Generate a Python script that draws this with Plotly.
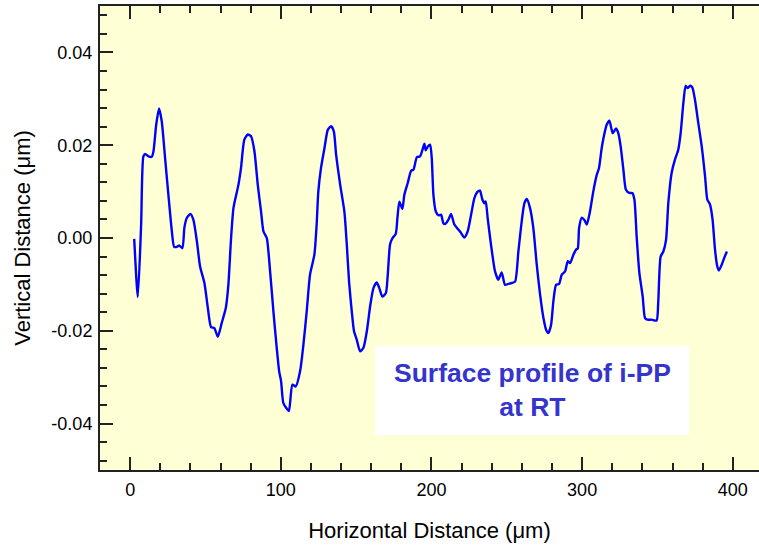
import plotly.graph_objects as go

# surface profile
horizontal_um = [
    2.7, 5.1, 7.3, 8.8, 10.0, 12.2, 14.4, 15.5, 17.3, 19.2, 21.0, 23.2, 25.4, 27.7,
    29.2, 31.0, 32.5, 34.7, 36.0, 37.6, 40.0, 42.0, 44.3, 46.4, 49.3, 51.6, 53.7,
    55.9, 58.2, 60.8, 63.5, 65.2, 67.0, 68.6, 71.9, 73.6, 75.8, 78.1, 80.3, 82.5,
    84.7, 86.9, 88.5, 90.7, 92.9, 95.1, 97.3, 98.9, 100.2, 101.7, 104.0, 105.4,
    107.7, 109.9, 112.8, 115.0, 117.2, 119.4, 122.3, 123.8, 124.9, 126.7, 129.0,
    131.2, 133.4, 135.2, 136.7, 139.4, 142.2, 143.8, 145.3, 147.1, 148.6, 150.4,
    152.6, 154.8, 157.1, 159.3, 161.5, 163.7, 165.4, 167.4, 169.7, 171.0, 172.5,
    174.0, 176.3, 177.4, 178.7, 180.7, 182.0, 184.3, 186.5, 188.0, 190.3, 192.4,
    194.0, 195.3, 196.2, 197.6, 199.1, 200.2, 201.3, 202.9, 204.6, 206.4, 207.9,
    209.0, 211.2, 213.0, 215.2, 217.4, 219.6, 221.8, 224.0, 226.3, 228.5, 230.7,
    232.2, 233.8, 235.1, 236.0, 237.3, 239.5, 242.2, 244.4, 246.6, 248.8, 251.0,
    253.3, 255.5, 257.7, 259.9, 261.7, 263.3, 265.4, 267.6, 269.9, 272.1, 274.3,
    276.1, 277.6, 279.4, 280.9, 282.7, 284.7, 286.5, 288.7, 290.5, 292.0, 294.2,
    296.0, 297.1, 298.0, 299.8, 301.5, 303.1, 305.2, 307.4, 309.7, 311.2, 313.0,
    314.4, 316.3, 318.1, 320.3, 322.5, 324.0, 325.6, 327.4, 329.1, 331.4, 333.3,
    334.7, 336.2, 338.0, 340.2, 341.7, 343.3, 346.1, 349.4, 350.5, 352.1, 353.9,
    355.7, 357.2, 359.4, 361.6, 363.8, 365.4, 367.2, 368.7, 370.0, 371.6, 373.1,
    374.9, 377.1, 379.4, 381.6, 383.1, 384.9, 386.6, 388.2, 389.7, 390.8, 392.6,
    394.3, 396.1,
]
vertical_um = [
    -0.0002, -0.0127, 0.0029, 0.0176, 0.0181, 0.0176, 0.0175, 0.0187, 0.0244,
    0.0279, 0.0251, 0.0172, 0.0093, 0.0014, -0.0019, -0.0019, -0.0016, -0.0022,
    0.0022, 0.0043, 0.0052, 0.0039, -0.0007, -0.0061, -0.0097, -0.0151, -0.0192,
    -0.0194, -0.0213, -0.0183, -0.0151, -0.0101, 0.0000, 0.0065, 0.0115, 0.0151,
    0.0212, 0.0223, 0.0219, 0.0187, 0.0115, 0.0057, 0.0014, 0.0000, -0.0072,
    -0.0158, -0.0237, -0.0287, -0.0309, -0.0356, -0.0368, -0.0373, -0.0316,
    -0.0320, -0.0287, -0.0230, -0.0158, -0.0079, -0.0036, 0.0029, 0.0100, 0.0151,
    0.0194, 0.0233, 0.0241, 0.0230, 0.0180, 0.0115, 0.0057, -0.0014, -0.0094,
    -0.0158, -0.0201, -0.0219, -0.0244, -0.0237, -0.0201, -0.0147, -0.0108,
    -0.0096, -0.0108, -0.0126, -0.0119, -0.0079, -0.0014, -0.0001, 0.0009,
    0.0043, 0.0078, 0.0063, 0.0093, 0.0119, 0.0145, 0.0147, 0.0174, 0.0176,
    0.0190, 0.0203, 0.0189, 0.0197, 0.0201, 0.0172, 0.0093, 0.0057, 0.0049,
    0.0050, 0.0032, 0.0030, 0.0039, 0.0052, 0.0029, 0.0020, 0.0011, 0.0001,
    0.0014, 0.0050, 0.0086, 0.0100, 0.0102, 0.0083, 0.0075, 0.0079, 0.0043,
    -0.0014, -0.0072, -0.0090, -0.0074, -0.0101, -0.0099, -0.0097, -0.0094,
    -0.0029, 0.0036, 0.0075, 0.0084, 0.0065, 0.0022, -0.0058, -0.0122, -0.0172,
    -0.0198, -0.0205, -0.0187, -0.0137, -0.0101, -0.0099, -0.0079, -0.0072,
    -0.0050, -0.0054, -0.0036, -0.0025, -0.0023, 0.0022, 0.0044, 0.0039, 0.0029,
    0.0057, 0.0100, 0.0136, 0.0151, 0.0194, 0.0219, 0.0244, 0.0253, 0.0226,
    0.0236, 0.0226, 0.0197, 0.0147, 0.0104, 0.0097, 0.0097, 0.0083, 0.0003,
    -0.0075, -0.0126, -0.0172, -0.0176, -0.0176, -0.0178, -0.0140, -0.0040,
    -0.0029, -0.0004, 0.0075, 0.0140, 0.0169, 0.0190, 0.0226, 0.0291, 0.0328,
    0.0323, 0.0328, 0.0325, 0.0298, 0.0248, 0.0197, 0.0133, 0.0083, 0.0072,
    0.0039, -0.0025, -0.0061, -0.0070, -0.0058, -0.0043, -0.0029,
]

x_ticks = [0, 100, 200, 300, 400]
y_ticks = [-0.04, -0.02, 0.00, 0.02, 0.04]
y_tick_text = ["-0.04", "-0.02", "0.00", "0.02", "0.04"]

note_text = "Surface profile of i-PP<br>at RT"
note_box = [162.6, -0.0425, 371.0, -0.0232]  # x0, y0, x1, y1 in data units

font = "Liberation Sans, Arial, sans-serif"
ink = "#222222"

fig = go.Figure()
fig.add_trace(
    go.Scatter(
        x=horizontal_um,
        y=vertical_um,
        mode="lines",
        line=dict(color="#0000ff", width=2.4, shape="spline", smoothing=0.6),
        showlegend=False,
    )
)

fig.add_shape(
    type="rect",
    x0=note_box[0], y0=note_box[1], x1=note_box[2], y1=note_box[3],
    fillcolor="white", line=dict(width=0), layer="below",
)
fig.add_annotation(
    x=(note_box[0] + note_box[2]) / 2,
    y=(note_box[1] + note_box[3]) / 2,
    text=note_text,
    showarrow=False,
    font=dict(family=font, size=26.5, color="#3535cc", weight="bold"),
)

tick_style = dict(ticks="inside", ticklen=13, tickwidth=1.5, tickcolor=ink)
y_minor = dict(dtick=0.004, tick0=0, ticks="inside", ticklen=7, tickwidth=1.5, tickcolor=ink)

# x axis mirrored gives the top edge; the right edge runs off the window,
# so only its ticks show (drawn by a line-less right axis)
fig.update_xaxes(
    **tick_style,
    showline=True, linecolor=ink, linewidth=2, mirror="ticks",
    showgrid=False, zeroline=False,
    range=[-20, 417.4],
    tickvals=x_ticks,
    minor=dict(dtick=20, tick0=0, ticks="inside", ticklen=7, tickwidth=1.5, tickcolor=ink),
    tickfont=dict(family=font, size=18, color="black"),
    title=dict(text="Horizontal Distance (μm)", standoff=24,
               font=dict(family=font, size=22, color="black")),
    ticklabelstandoff=2,
)
fig.update_layout(
    yaxis=dict(
        **tick_style,
        showline=True, linecolor=ink, linewidth=2, mirror=False,
        showgrid=False, zeroline=False,
        range=[-0.05, 0.05],
        tickvals=y_ticks,
        ticktext=y_tick_text,
        minor=y_minor,
        tickfont=dict(family=font, size=18, color="black"),
        title=dict(text="Vertical Distance (μm)", standoff=15,
                   font=dict(family=font, size=22, color="black")),
        ticklabelstandoff=2,
    ),
    yaxis2=dict(
        **tick_style,
        overlaying="y", side="right", showline=False,
        showgrid=False, zeroline=False, showticklabels=False,
        range=[-0.05, 0.05],
        tickvals=y_ticks,
        minor=y_minor,
    ),
    width=759,
    height=546,
    margin=dict(l=100, r=0, t=6, b=76),
    plot_bgcolor="#ffffd6",
    paper_bgcolor="white",
    font=dict(family=font),
)

fig.write_html(
    "out.html",
    config={"displayModeBar": False},
    post_script="document.body.style.margin='0';document.body.style.overflow='hidden';",
)
